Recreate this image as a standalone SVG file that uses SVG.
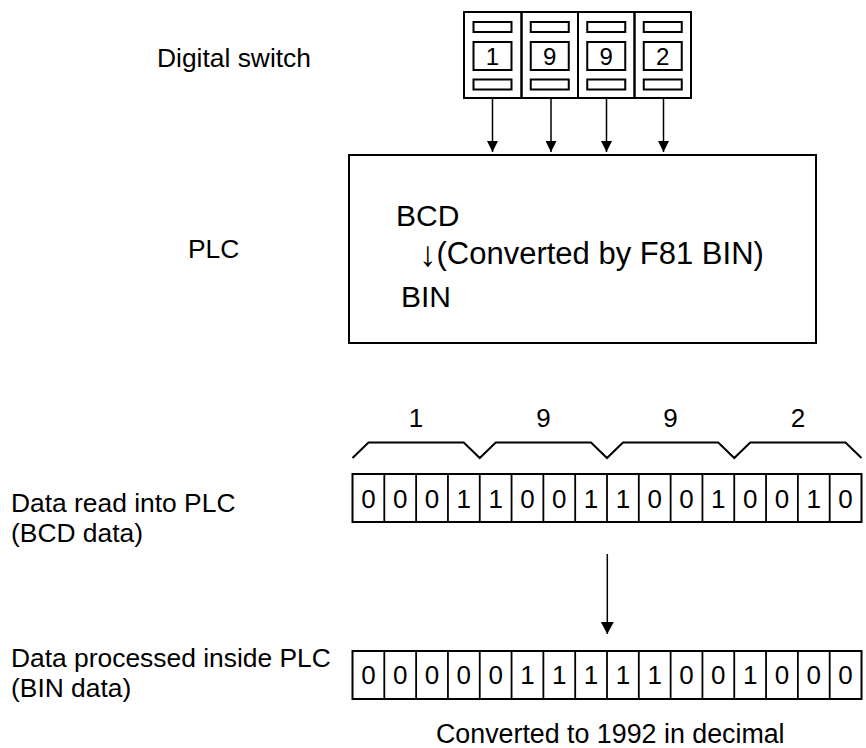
<svg xmlns="http://www.w3.org/2000/svg" width="866" height="748" viewBox="0 0 866 748">
<defs>
<style>
text{font-family:"Liberation Sans",Arial,sans-serif;fill:#000}
.lbl{font-size:26.4px}
.box{fill:#fff;stroke:#000;stroke-width:2}
.sw{fill:none;stroke:#000;stroke-width:2}
.cell{fill:none;stroke:#000;stroke-width:1.8}
.bit{font-size:26px;text-anchor:middle}
.swd{font-size:24px;text-anchor:middle}
.conn{fill:none;stroke:#000;stroke-width:1.5}
.brace{fill:none;stroke:#000;stroke-width:2;stroke-linejoin:miter}
</style>
<marker id="ah" markerUnits="userSpaceOnUse" markerWidth="12" markerHeight="11" refX="11" refY="5.5" orient="auto">
<path d="M0,0 L11,5.5 L0,11 Z" fill="#000"/>
</marker>
<marker id="ah2" markerUnits="userSpaceOnUse" markerWidth="13" markerHeight="14" refX="12" refY="6.5" orient="auto">
<path d="M0,0 L12,6.5 L0,13 Z" fill="#000"/>
</marker>
</defs>
<rect width="866" height="748" fill="#fff"/>

<g id="labels">
<text class="lbl" x="157" y="66.5">Digital switch</text>
<text class="lbl" x="188" y="258">PLC</text>
<text class="lbl" x="11" y="511.5">Data read into PLC</text>
<text class="lbl" x="11" y="541.5">(BCD data)</text>
<text class="lbl" x="11" y="666.5">Data processed inside PLC</text>
<text class="lbl" x="11" y="696.5">(BIN data)</text>
<text x="436" y="743" style="font-size:26.8px">Converted to 1992 in decimal</text>
</g>

<g id="digital-switch">
<rect class="sw" x="464" y="12" width="57.5" height="86"/>
<rect class="sw" x="521.5" y="12" width="56.5" height="86"/>
<rect class="sw" x="578" y="12" width="56.5" height="86"/>
<rect class="sw" x="634.5" y="12" width="56.5" height="86"/>
<rect class="sw" x="473.5" y="22" width="38" height="10"/>
<rect class="sw" x="473.5" y="42" width="38" height="28"/>
<rect class="sw" x="473.5" y="79.5" width="38" height="10"/>
<rect class="sw" x="530.75" y="22" width="38" height="10"/>
<rect class="sw" x="530.75" y="42" width="38" height="28"/>
<rect class="sw" x="530.75" y="79.5" width="38" height="10"/>
<rect class="sw" x="587.25" y="22" width="38" height="10"/>
<rect class="sw" x="587.25" y="42" width="38" height="28"/>
<rect class="sw" x="587.25" y="79.5" width="38" height="10"/>
<rect class="sw" x="643.75" y="22" width="38" height="10"/>
<rect class="sw" x="643.75" y="42" width="38" height="28"/>
<rect class="sw" x="643.75" y="79.5" width="38" height="10"/>
<text class="swd" x="492.5" y="65">1</text>
<text class="swd" x="549.75" y="65">9</text>
<text class="swd" x="606.25" y="65">9</text>
<text class="swd" x="662.75" y="65">2</text>
</g>

<g id="plc">
<rect class="box" x="349" y="155" width="467" height="188"/>
<text x="396" y="225.5" style="font-size:30px">BCD</text>
<text x="419" y="264" style="font-size:31px"><tspan dy="2" style="font-size:35px">↓</tspan><tspan x="436.5" dy="-2">(Converted by F81 BIN)</tspan></text>
<text x="401" y="306.5" style="font-size:30px">BIN</text>
</g>

<g id="bcd-digits">
<path class="brace" d="M352.5,458 L368.5,442.5 L463.75,442.5 L479.75,458 L495.75,442.5 L591,442.5 L607,458 L623,442.5 L718.25,442.5 L734.25,458 L750.25,442.5 L845.5,442.5 L861.5,458"/>
<text class="bit" x="416.1" y="426.5">1</text>
<text class="bit" x="543.4" y="426.5">9</text>
<text class="bit" x="670.6" y="426.5">9</text>
<text class="bit" x="797.9" y="426.5">2</text>
</g>

<g id="bcd-row">
<rect class="cell" x="352.5" y="474" width="509" height="48" style="stroke-width:2"/>
<path class="cell" d="M384.31,474V522M416.13,474V522M447.94,474V522M479.75,474V522M511.56,474V522M543.38,474V522M575.19,474V522M607,474V522M638.81,474V522M670.63,474V522M702.44,474V522M734.25,474V522M766.06,474V522M797.88,474V522M829.69,474V522"/>
<text class="bit" x="368.4" y="507.5">0</text>
<text class="bit" x="400.2" y="507.5">0</text>
<text class="bit" x="432.0" y="507.5">0</text>
<text class="bit" x="463.8" y="507.5">1</text>
<text class="bit" x="495.7" y="507.5">1</text>
<text class="bit" x="527.5" y="507.5">0</text>
<text class="bit" x="559.3" y="507.5">0</text>
<text class="bit" x="591.1" y="507.5">1</text>
<text class="bit" x="622.9" y="507.5">1</text>
<text class="bit" x="654.7" y="507.5">0</text>
<text class="bit" x="686.5" y="507.5">0</text>
<text class="bit" x="718.3" y="507.5">1</text>
<text class="bit" x="750.2" y="507.5">0</text>
<text class="bit" x="782.0" y="507.5">0</text>
<text class="bit" x="813.8" y="507.5">1</text>
<text class="bit" x="845.6" y="507.5">0</text>
</g>

<g id="bin-row">
<rect class="cell" x="352.5" y="651" width="509" height="48" style="stroke-width:2"/>
<path class="cell" d="M384.31,651V699M416.13,651V699M447.94,651V699M479.75,651V699M511.56,651V699M543.38,651V699M575.19,651V699M607,651V699M638.81,651V699M670.63,651V699M702.44,651V699M734.25,651V699M766.06,651V699M797.88,651V699M829.69,651V699"/>
<text class="bit" x="368.4" y="683.5">0</text>
<text class="bit" x="400.2" y="683.5">0</text>
<text class="bit" x="432.0" y="683.5">0</text>
<text class="bit" x="463.8" y="683.5">0</text>
<text class="bit" x="495.7" y="683.5">0</text>
<text class="bit" x="527.5" y="683.5">1</text>
<text class="bit" x="559.3" y="683.5">1</text>
<text class="bit" x="591.1" y="683.5">1</text>
<text class="bit" x="622.9" y="683.5">1</text>
<text class="bit" x="654.7" y="683.5">1</text>
<text class="bit" x="686.5" y="683.5">0</text>
<text class="bit" x="718.3" y="683.5">0</text>
<text class="bit" x="750.2" y="683.5">1</text>
<text class="bit" x="782.0" y="683.5">0</text>
<text class="bit" x="813.8" y="683.5">0</text>
<text class="bit" x="845.6" y="683.5">0</text>
</g>

<g id="connectors">
<line class="conn" x1="492.5" y1="98" x2="492.5" y2="152" marker-end="url(#ah)"/>
<line class="conn" x1="551" y1="98" x2="551" y2="152" marker-end="url(#ah)"/>
<line class="conn" x1="606.5" y1="98" x2="606.5" y2="152" marker-end="url(#ah)"/>
<line class="conn" x1="663.5" y1="98" x2="663.5" y2="152" marker-end="url(#ah)"/>
<line class="conn" x1="607.3" y1="554" x2="607.3" y2="634" marker-end="url(#ah2)"/>
</g>
</svg>
